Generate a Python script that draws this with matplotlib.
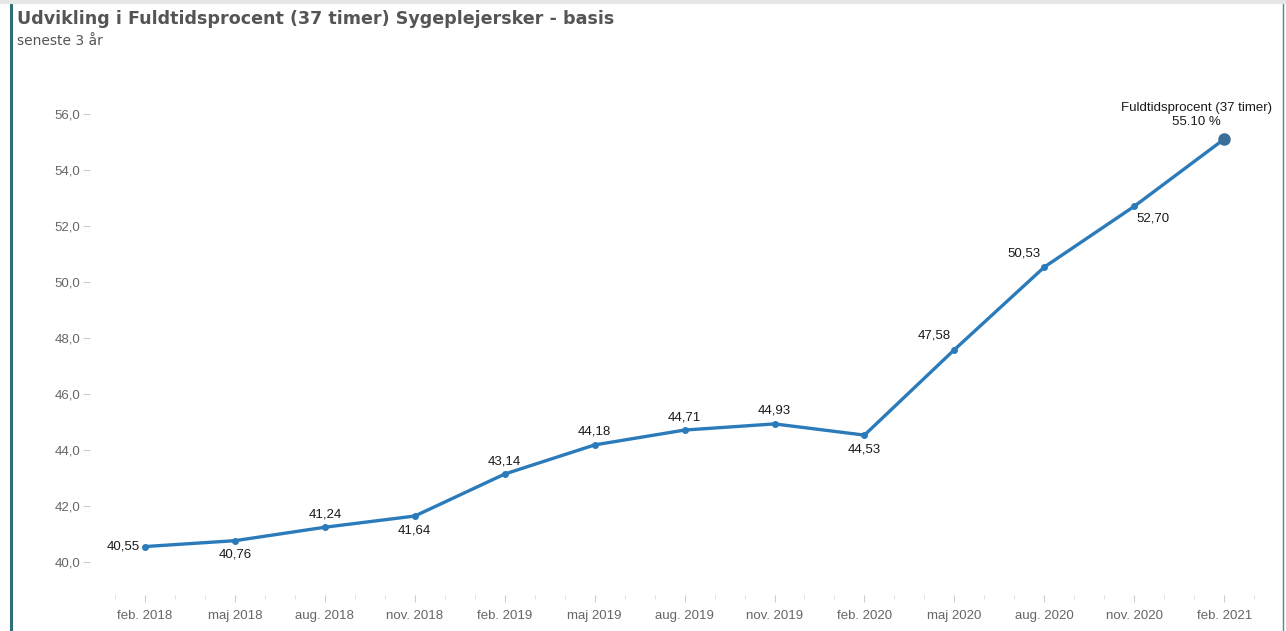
import matplotlib
matplotlib.use("Agg")
import matplotlib.pyplot as plt
from matplotlib.ticker import MultipleLocator, FixedLocator, FuncFormatter
import matplotlib.lines as mlines

categories = ["feb. 2018", "maj 2018", "aug. 2018", "nov. 2018", "feb. 2019", "maj 2019",
              "aug. 2019", "nov. 2019", "feb. 2020", "maj 2020", "aug. 2020", "nov. 2020", "feb. 2021"]
values = [40.55, 40.76, 41.24, 41.64, 43.14, 44.18, 44.71, 44.93, 44.53, 47.58, 50.53, 52.70, 55.10]
placements = ["left", "below", "above", "below", "above", "above", "above", "above", "below",
              "aboveleft", "aboveleft", "belowright", "none"]
title = "Udvikling i Fuldtidsprocent (37 timer) Sygeplejersker - basis"
subtitle = "seneste 3 år"
series_name = "Fuldtidsprocent (37 timer)"

W, H = 1286, 631
fig = plt.figure(figsize=(W / 100, H / 100), dpi=100)

def px(x0, y0, x1, y1):
    return [x0 / W, 1 - y1 / H, (x1 - x0) / W, (y1 - y0) / H]

ax = fig.add_axes(px(90, 75, 1270, 595))
xs = list(range(len(values)))
line_color = "#2b7bba"
ax.plot(xs, values, color=line_color, lw=2.4, zorder=3, solid_capstyle="round")
ax.plot(xs[:-1], values[:-1], "o", color=line_color, ms=4, zorder=4)
ax.plot(xs[-1], values[-1], "o", color="#3a6f99", ms=8, zorder=5)

ax.set_xlim(-0.612, 12.51)
ax.set_ylim(38.82, 57.39)
for s in ax.spines.values():
    s.set_visible(False)

ax.yaxis.set_major_locator(MultipleLocator(2))
ax.yaxis.set_major_formatter(FuncFormatter(lambda v, p: f"{v:.1f}".replace(".", ",")))
ax.set_xticks(xs)
ax.set_xticklabels(categories)
ax.xaxis.set_minor_locator(FixedLocator([i / 3 for i in range(-1, 38) if i % 3 != 0]))
ax.tick_params(axis="y", length=5, width=0.8, color="#cccccc", labelcolor="#666666",
               labelsize=9.5, pad=2)
ax.tick_params(axis="x", which="major", length=5, width=0.8, color="#cccccc",
               labelcolor="#666666", labelsize=9.5, pad=6)
ax.tick_params(axis="x", which="minor", length=3, width=0.7, color="#e2e2e2")
for lbl in ax.get_xticklabels() + ax.get_yticklabels():
    lbl.set_family(["Liberation Sans", "DejaVu Sans"])

off = {"left": (-5, 0, "right", "center"),
       "below": (0, -14, "center", "center"),
       "above": (0, 13, "center", "center"),
       "aboveleft": (-20, 14, "center", "center"),
       "belowright": (19, -12, "center", "center")}
for x, v, p in zip(xs, values, placements):
    if p == "none":
        continue
    dx, dy, ha, va = off[p]
    ax.annotate(f"{v:.2f}".replace(".", ","), (x, v), xytext=(dx * 0.72, dy * 0.72),
                textcoords="offset points", ha=ha, va=va, fontsize=9.5,
                color="#1a1a1a", family=["Liberation Sans", "DejaVu Sans"], zorder=6)
ax.annotate(f"{series_name}\n{values[-1]:.2f} %", (xs[-1], values[-1]),
            xytext=(-28 * 0.72, 24 * 0.72), textcoords="offset points",
            ha="center", va="center", fontsize=9.5, color="#1a1a1a",
            family=["Liberation Sans", "DejaVu Sans"], linespacing=1.15, zorder=6)

fig.text(17 / W, 1 - 19 / H, title, ha="left", va="center", fontsize=12.6,
         fontweight="bold", color="#555555", family=["DejaVu Sans"])
fig.text(17 / W, 1 - 41 / H, subtitle, ha="left", va="center", fontsize=10,
         color="#555555", family=["DejaVu Sans"])

fig.add_artist(mlines.Line2D([10.5 / W, 10.5 / W], [0, 1], color="#2f6f7a", lw=2.2))
fig.add_artist(mlines.Line2D([1283 / W, 1283 / W], [0, 1 - 4 / H], color="#4a8a90", lw=1.0))
fig.add_artist(mlines.Line2D([0, 1], [1 - 1.5 / H, 1 - 1.5 / H], color="#e6e6e6", lw=3))

fig.savefig("out.png", dpi=100)
